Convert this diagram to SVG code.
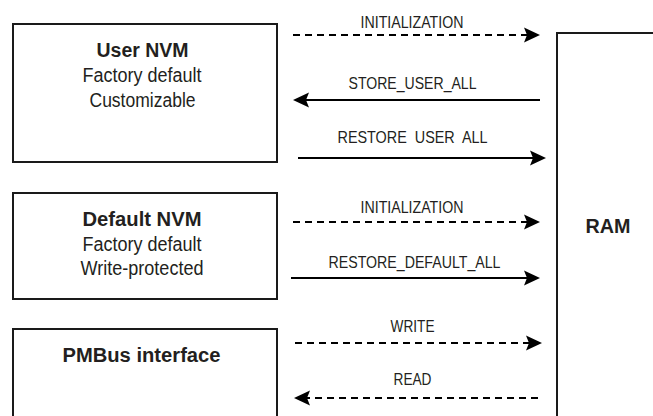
<svg xmlns="http://www.w3.org/2000/svg" width="653" height="416" viewBox="0 0 653 416">
<style>
.box{fill:#fff;stroke:#1a1a1a;stroke-width:2}
.t{font-family:"Liberation Sans",Arial,sans-serif;fill:#231f20;text-anchor:middle}
.title{font-size:19.5px;font-weight:bold}
.sub{font-size:19.5px}
.lbl{font-size:16.5px}
.c{stroke:#000;stroke-width:2;fill:none}
.d{stroke-dasharray:7 5}
</style>
<defs>
<marker id="ah" viewBox="0 -8 17 16" markerWidth="17" markerHeight="16" refX="3" refY="0" orient="auto" markerUnits="userSpaceOnUse">
<path d="M0,-7.5 L16,0 L0,7.5 L3,0 Z" fill="#000" stroke="none"/>
</marker>
</defs>
<rect width="653" height="416" fill="#fff"/>
<g id="user-nvm">
<rect class="box" x="13" y="24" width="264" height="138"/>
<text class="t title" x="142.5" y="57" textLength="92" lengthAdjust="spacingAndGlyphs">User NVM</text>
<text class="t sub" x="142" y="82" textLength="119" lengthAdjust="spacingAndGlyphs">Factory default</text>
<text class="t sub" x="142.5" y="107" textLength="106" lengthAdjust="spacingAndGlyphs">Customizable</text>
</g>
<g id="default-nvm">
<rect class="box" x="13" y="193" width="264" height="106"/>
<text class="t title" x="142" y="226" textLength="119" lengthAdjust="spacingAndGlyphs">Default NVM</text>
<text class="t sub" x="142" y="251" textLength="119" lengthAdjust="spacingAndGlyphs">Factory default</text>
<text class="t sub" x="142" y="275" textLength="123" lengthAdjust="spacingAndGlyphs">Write-protected</text>
</g>
<g id="pmbus">
<rect class="box" x="13" y="329" width="264" height="100"/>
<text class="t title" x="141.5" y="362" textLength="158" lengthAdjust="spacingAndGlyphs">PMBus interface</text>
</g>
<g id="ram">
<path class="box" d="M557,420 V33 H660" fill="none"/>
<text class="t title" x="608" y="233" style="font-size:21px" textLength="45" lengthAdjust="spacingAndGlyphs">RAM</text>
</g>
<g id="connectors">
<line class="c d" x1="293" y1="35" x2="527" y2="35" marker-end="url(#ah)"/>
<text class="t lbl" x="412" y="28" textLength="103" lengthAdjust="spacingAndGlyphs">INITIALIZATION</text>
<line class="c" x1="540" y1="100" x2="306" y2="100" marker-end="url(#ah)"/>
<text class="t lbl" x="412.5" y="89" textLength="128" lengthAdjust="spacingAndGlyphs">STORE_USER_ALL</text>
<line class="c" x1="298" y1="158" x2="533" y2="158" marker-end="url(#ah)"/>
<text class="t lbl" x="412.5" y="143" textLength="150" lengthAdjust="spacingAndGlyphs" xml:space="preserve">RESTORE  USER  ALL</text>
<line class="c d" x1="293" y1="222" x2="527" y2="222" marker-end="url(#ah)"/>
<text class="t lbl" x="412" y="213" textLength="103" lengthAdjust="spacingAndGlyphs">INITIALIZATION</text>
<line class="c" x1="291" y1="278" x2="527" y2="278" marker-end="url(#ah)"/>
<text class="t lbl" x="414.5" y="268" textLength="172" lengthAdjust="spacingAndGlyphs">RESTORE_DEFAULT_ALL</text>
<line class="c d" x1="295" y1="343" x2="529" y2="343" marker-end="url(#ah)"/>
<text class="t lbl" x="412.5" y="332" textLength="44" lengthAdjust="spacingAndGlyphs">WRITE</text>
<line class="c d" x1="538" y1="398" x2="307" y2="398" marker-end="url(#ah)"/>
<text class="t lbl" x="412.5" y="385" textLength="38" lengthAdjust="spacingAndGlyphs">READ</text>
</g>
</svg>
